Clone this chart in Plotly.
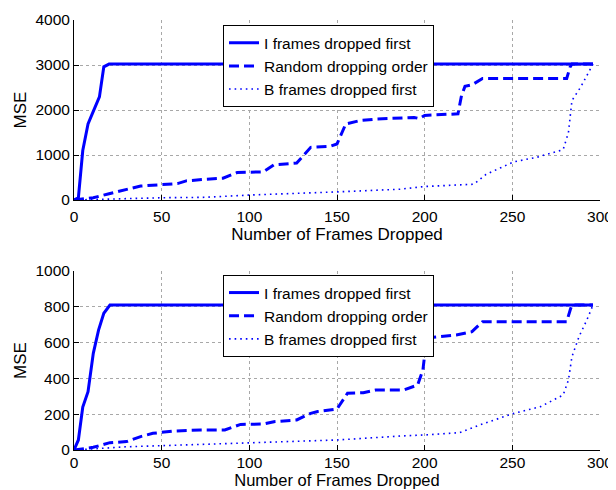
import plotly.graph_objects as go

# ---- data ----
# Top panel
i_x = [0, 2.5, 5, 8, 11, 14.5, 17, 20, 296]
i_y = [0, 50, 1100, 1690, 1970, 2290, 2960, 3020, 3020]

r_x = [0, 11, 20, 38, 59, 64, 75, 85, 93, 108, 114, 127, 135, 146, 150, 155, 163, 173, 194, 197, 200, 219, 221, 223, 227, 233, 281, 283, 284, 296]
r_y = [0, 50, 140, 310, 365, 425, 460, 484, 610, 625, 780, 820, 1170, 1190, 1245, 1690, 1765, 1800, 1835, 1810, 1880, 1915, 2320, 2525, 2560, 2700, 2700, 2960, 3020, 3020]

b_x = [0, 15, 50, 75, 100, 150, 186, 200, 228, 235, 251, 264, 279, 282, 284, 289, 295, 296]
b_y = [0, 20, 50, 60, 110, 180, 240, 300, 350, 570, 850, 950, 1120, 1500, 2210, 2510, 2920, 3020]

# Bottom panel
i2_x = [0, 2.5, 5, 8, 11, 14, 17, 20.5, 296]
i2_y = [0, 56, 240, 326, 540, 670, 764, 810, 810]

r2_x = [0, 11, 20.5, 30, 38, 45, 57, 72, 86, 95, 108, 114, 127, 135, 139, 150, 156, 165, 172, 188, 196, 199, 201, 205, 218, 227, 233, 281, 283, 284, 296]
r2_y = [0, 15, 41, 47, 75, 93, 106, 112, 112, 143, 145, 158, 168, 205, 215, 229, 317, 320, 335, 335, 363, 447, 614, 630, 642, 661, 717, 717, 782, 810, 810]

b2_x = [0, 30, 75, 100, 150, 186, 200, 220, 234, 251, 266, 279, 282, 284, 288, 292.5, 296]
b2_y = [0, 18, 32, 41, 56, 78, 84, 97, 149, 205, 242, 307, 391, 521, 633, 726, 810]

names = ["I frames dropped first", "Random dropping order", "B frames dropped first"]
x_ticks = [0, 50, 100, 150, 200, 250, 300]
y_ticks_top = [0, 1000, 2000, 3000, 4000]
y_ticks_bot = [0, 200, 400, 600, 800, 1000]

BLUE = "#0000ff"
FONT = "Liberation Sans, Arial, Helvetica, sans-serif"
styles = [dict(color=BLUE, width=3),
          dict(color=BLUE, width=3, dash="10px,5px"),
          dict(color=BLUE, width=1.6, dash="1.6px,4px")]

fig = go.Figure()
for xs, ys, nm, st in zip([i_x, r_x, b_x], [i_y, r_y, b_y], names, styles):
    fig.add_trace(go.Scatter(x=xs, y=ys, mode="lines", name=nm, line=st,
                             xaxis="x", yaxis="y", legend="legend"))
for xs, ys, nm, st in zip([i2_x, r2_x, b2_x], [i2_y, r2_y, b2_y], names, styles):
    fig.add_trace(go.Scatter(x=xs, y=ys, mode="lines", name=nm, line=st,
                             xaxis="x2", yaxis="y2", legend="legend2"))

TICK = 15.5
TITLE = 17
axis_common = dict(showline=True, linecolor="black", linewidth=1, mirror=False,
                   ticks="inside", ticklen=5, tickcolor="black",
                   showgrid=True, gridcolor="#a8a8a8", griddash="dot", gridwidth=1,
                   zeroline=False, automargin=False,
                   tickfont=dict(size=TICK, color="black"))
xax_top = dict(axis_common, ticklabelstandoff=2)
xax_bot = dict(axis_common, ticklabelstandoff=-2)

top_dom = [0.5814, 1.0]
bot_dom = [0.0, 0.4163]

legend_common = dict(xanchor="left", yanchor="top", bgcolor="white",
                     bordercolor="black", borderwidth=1,
                     font=dict(size=15.5), tracegroupgap=0)

fig.update_layout(
    width=608, height=490,
    margin=dict(l=66, r=16, t=12, b=48),
    paper_bgcolor="white", plot_bgcolor="white",
    font=dict(family=FONT, size=15, color="black"),
    xaxis=dict(domain=[0, 1], anchor="y", range=[0, 300], tickvals=x_ticks,
               title=dict(text="Number of Frames Dropped", standoff=0, font=dict(size=TITLE)), **xax_top),
    yaxis=dict(domain=top_dom, anchor="x", range=[0, 4000], tickvals=y_ticks_top,
               title=dict(text="MSE", standoff=4, font=dict(size=TITLE)), **axis_common),
    xaxis2=dict(domain=[0, 1], anchor="y2", range=[0, 300], tickvals=x_ticks,
                title=dict(text="Number of Frames Dropped", standoff=0, font=dict(size=16.5)), **xax_bot),
    yaxis2=dict(domain=bot_dom, anchor="x2", range=[0, 1000], tickvals=y_ticks_bot,
                title=dict(text="MSE", standoff=4, font=dict(size=TITLE)), **axis_common),
    legend=dict(x=0.2833, y=0.988, **legend_common),
    legend2=dict(x=0.2833, y=0.407, **legend_common),
    showlegend=True,
)

fig.write_html("out.html")
